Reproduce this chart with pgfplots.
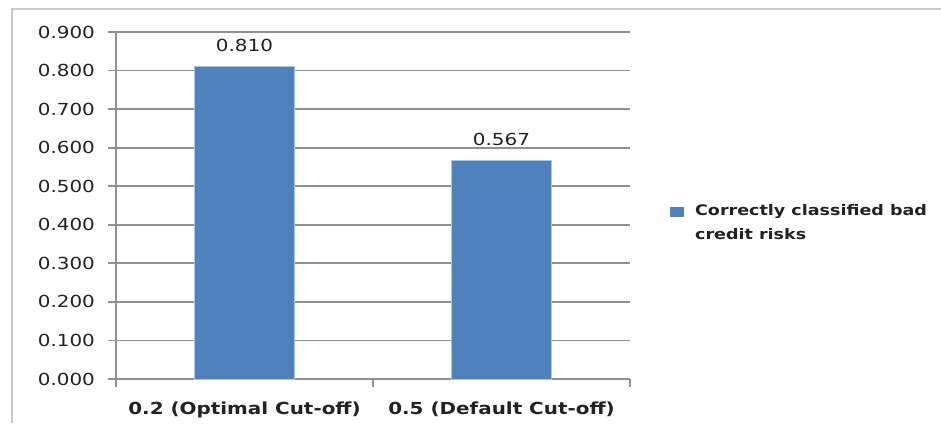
\documentclass[border=0pt]{standalone}
\usepackage{pgfplots}
\pgfplotsset{compat=1.18}
\usepackage{fontspec}
\setmainfont{DejaVu Sans}[FakeStretch=1.2]
\definecolor{barblue}{HTML}{4F81BD}
\definecolor{baredge}{HTML}{A9C4E6}
\definecolor{gridgray}{HTML}{909090}
\definecolor{framegray}{HTML}{C8C8C8}
\definecolor{txt}{HTML}{222222}
\begin{document}
\begin{tikzpicture}
\useasboundingbox (0,0) rectangle (470.5pt,211.5pt);
\draw[line width=1pt, framegray] (6pt,0pt) -- (6pt,207pt) -- (470.5pt,207pt);
\begin{axis}[
  at={(58pt,22pt)}, anchor=south west,
  scale only axis, width=257pt, height=173.5pt,
  xmin=-0.5, xmax=1.5, ymin=0, ymax=0.9,
  axis x line*=bottom, axis y line*=left,
  axis line style={gridgray, line width=0.9pt},
  ytick={0,0.1,0.2,0.3,0.4,0.5,0.6,0.7,0.8,0.9},
  ymajorgrids, grid style={gridgray, line width=0.9pt},
  tick align=outside, major tick length=4pt,
  tick style={gridgray, line width=0.9pt},
  yticklabel style={/pgf/number format/fixed, /pgf/number format/fixed zerofill, /pgf/number format/precision=3, /pgf/number format/assume math mode=true},
  y tick label style={font=\fontsize{8.3}{10}\selectfont, text=txt, xshift=-3pt},
  xtick={-0.5,0.5,1.5}, xticklabels={},
  extra x ticks={0,1},
  extra x tick labels={0.2 (Optimal Cut-off),0.5 (Default Cut-off)},
  extra x tick style={major tick length=0pt, tick style={draw=none},
     x tick label style={font=\bfseries\fontsize{8.3}{10}\selectfont, text=txt, yshift=-8pt}},
  ybar, bar width=50pt,
  nodes near coords={\pgfmathprintnumber[fixed,fixed zerofill,precision=3,assume math mode=true]{\pgfplotspointmeta}},
  nodes near coords style={font=\fontsize{8.3}{10}\selectfont, text=txt, yshift=4pt},
  legend style={at={(1.066,0.448)}, anchor=west, draw=none, fill=none,
     font=\bfseries\fontsize{7.3}{12}\selectfont, text=txt,
     cells={anchor=west, align=left}},
  legend image code/.code={\fill[barblue] (0pt,3.8pt) rectangle (6.5pt,8.2pt); \path (10pt,3.8pt);},
]
\addplot[fill=barblue, draw=baredge, line width=0.4pt] coordinates {(0,0.810) (1,0.567)};
\addlegendentry{Correctly classified bad\\credit risks}
\end{axis}
\end{tikzpicture}
\end{document}
